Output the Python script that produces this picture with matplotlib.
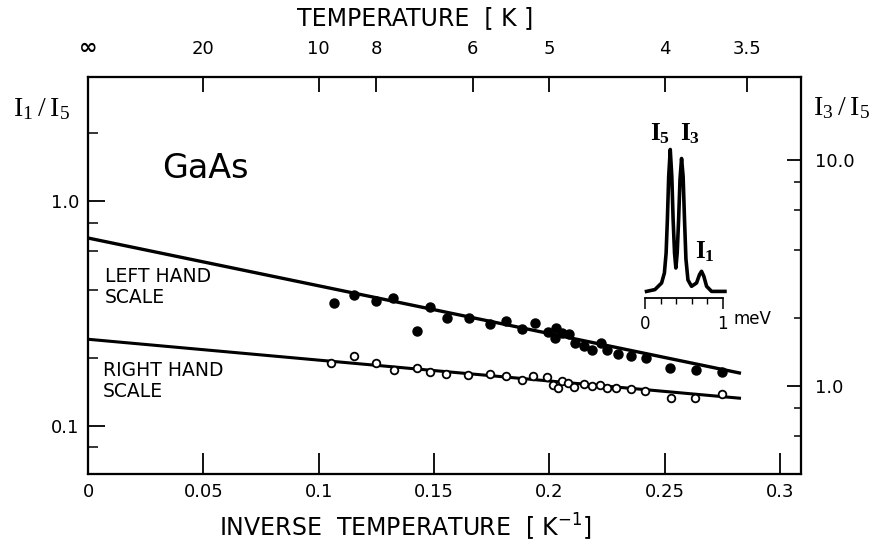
import numpy as np
import matplotlib.pyplot as plt
from matplotlib.ticker import FixedLocator, NullFormatter

plt.rcParams['font.family'] = ['DejaVu Sans']

# I1/I5 (filled dots, left hand scale)
inv_t_filled = [0.1065, 0.1152, 0.1246, 0.1322, 0.1424, 0.1484, 0.1556, 0.1653, 0.1742,
                0.1813, 0.1881, 0.1937, 0.1995, 0.2030, 0.2024, 0.2056, 0.2086, 0.2109,
                0.2149, 0.2186, 0.2225, 0.2251, 0.2297, 0.2355, 0.2417, 0.2521, 0.2636, 0.2749]
i1_i5 = [0.350, 0.381, 0.360, 0.368, 0.264, 0.338, 0.300, 0.300, 0.282,
         0.293, 0.268, 0.287, 0.262, 0.272, 0.245, 0.257, 0.256, 0.234,
         0.226, 0.217, 0.232, 0.217, 0.208, 0.205, 0.199, 0.181, 0.177, 0.173]

# I3/I5 (open dots, right hand scale)
inv_t_open = [0.1051, 0.1152, 0.1250, 0.1325, 0.1424, 0.1484, 0.1550, 0.1649, 0.1742,
              0.1813, 0.1883, 0.1929, 0.1991, 0.2015, 0.2037, 0.2054, 0.2082, 0.2108,
              0.2149, 0.2183, 0.2217, 0.2251, 0.2290, 0.2352, 0.2412, 0.2525, 0.2632, 0.2749]
i3_i5 = [1.260, 1.358, 1.260, 1.177, 1.198, 1.150, 1.130, 1.122, 1.133,
         1.104, 1.063, 1.111, 1.093, 1.010, 0.983, 1.055, 1.028, 0.987,
         1.017, 1.000, 1.010, 0.977, 0.977, 0.967, 0.950, 0.882, 0.888, 0.922]

# fitted lines
fit_x = [0.0, 0.283]
fit_left = [0.683, 0.171]
fit_right = [1.61, 0.882]

# top axis temperatures
temps = [20, 10, 8, 6, 5, 4, 3.5]

# inset spectrum (meV, relative intensity)
spec_e = [0.021, 0.128, 0.214, 0.250, 0.272, 0.288, 0.305, 0.325, 0.345, 0.362, 0.380,
          0.397, 0.414, 0.432, 0.450, 0.470, 0.490, 0.508, 0.526, 0.552, 0.598, 0.662,
          0.700, 0.726, 0.756, 0.791, 0.855, 1.026]
spec_i = [0.044, 0.056, 0.100, 0.167, 0.300, 0.520, 0.810, 0.990, 0.810, 0.520, 0.300,
          0.200, 0.300, 0.520, 0.790, 0.930, 0.810, 0.520, 0.260, 0.120, 0.078, 0.100,
          0.156, 0.178, 0.144, 0.078, 0.044, 0.044]

W, H = 872, 546
def box(x0, y0, x1, y1):
    return [x0 / W, 1 - y1 / H, (x1 - x0) / W, (y1 - y0) / H]

fig = plt.figure(figsize=(W / 100, H / 100), dpi=100)
ax = fig.add_axes(box(88, 77, 801, 473.5))
ax.set_xlim(0, 0.309)
ax.set_yscale('log')
ax.set_ylim(0.0613, 3.55)

ax.plot(fit_x, fit_left, color='black', lw=2.4, solid_capstyle='butt')
ax.plot(inv_t_filled, i1_i5, 'o', color='black', ms=6.5)

ax.set_xticks([0, 0.05, 0.1, 0.15, 0.2, 0.25, 0.3])
ax.set_xticklabels(['0', '0.05', '0.1', '0.15', '0.2', '0.25', '0.3'])
ax.yaxis.set_major_locator(FixedLocator([0.1, 1.0]))
ax.set_yticklabels(['0.1', '1.0'])
ax.yaxis.set_minor_locator(FixedLocator([0.08, 0.2, 0.4, 0.6, 0.8, 2.0]))
ax.yaxis.set_minor_formatter(NullFormatter())
ax.tick_params(axis='x', which='both', direction='in', length=15, width=1.3,
               labelsize=13, pad=7)
ax.tick_params(axis='y', which='major', direction='in', length=12, width=1.3,
               labelsize=13, pad=6)
ax.tick_params(axis='y', which='minor', direction='in', length=7, width=1.1)

ax2 = ax.twinx()
ax2.set_yscale('log')
ax2.set_ylim(0.41, 23.3)
ax2.plot(fit_x, fit_right, color='black', lw=2.2, solid_capstyle='butt')
ax2.plot(inv_t_open, i3_i5, 'o', mfc='white', mec='black', mew=1.3, ms=5.5)
ax2.yaxis.set_major_locator(FixedLocator([1.0, 10.0]))
ax2.set_yticklabels(['1.0', '10.0'])
ax2.yaxis.set_minor_locator(FixedLocator([0.6, 0.8, 2, 4, 6, 8]))
ax2.yaxis.set_minor_formatter(NullFormatter())
ax2.tick_params(axis='y', which='major', direction='in', length=10, width=1.3,
                labelsize=13, pad=10)
ax2.tick_params(axis='y', which='minor', direction='in', length=5, width=1.1)

ax3 = ax.twiny()
ax3.set_xlim(ax.get_xlim())
ax3.set_xticks([0] + [1 / t for t in temps])
ax3.set_xticklabels(['\u221e'] + [str(t) for t in temps])
ax3.tick_params(axis='x', direction='in', length=11, width=1.3, labelsize=13, pad=14)
ax3.get_xticklabels()[0].set_fontweight('bold')
ax3.get_xticklabels()[0].set_fontsize(16)

for a in (ax, ax2, ax3):
    for s in a.spines.values():
        s.set_linewidth(1.5)

fig.text(415 / W, 1 - 18 / H, 'TEMPERATURE  [ K ]', ha='center', va='center', fontsize=17)
fig.text(405 / W, 1 - 527 / H, 'INVERSE  TEMPERATURE  [ K$^{-1}$]', ha='center',
         va='center', fontsize=17)
fig.text(41 / W, 1 - 109 / H, r'$\mathregular{I_1\,/\,I_5}$', ha='center', va='center',
         fontsize=20, family='Liberation Serif')
fig.text(841 / W, 1 - 108 / H, r'$\mathregular{I_3\,/\,I_5}$', ha='center', va='center',
         fontsize=20, family='Liberation Serif')

fig.text(205 / W, 1 - 168 / H, 'GaAs', ha='center', va='center', fontsize=24)
fig.text(105 / W, 1 - 287 / H, 'LEFT HAND\nSCALE', ha='left', va='center', fontsize=13.5,
         linespacing=1.15)
fig.text(103 / W, 1 - 381 / H, 'RIGHT HAND\nSCALE', ha='left', va='center', fontsize=13.5,
         linespacing=1.15)

# inset spectrum
ins = fig.add_axes(box(641, 140.5, 730.7, 298))
ins.set_xlim(-0.05, 1.1)
ins.set_ylim(0, 1.05)
ins.plot(spec_e, spec_i, color='black', lw=2.6)
for side in ('top', 'left', 'right'):
    ins.spines[side].set_visible(False)
ins.spines['bottom'].set_bounds(0, 1)
ins.spines['bottom'].set_linewidth(1.3)
ins.set_yticks([])
ins.set_xticks([0, 1])
ins.set_xticklabels(['0', '1'])
ins.xaxis.set_minor_locator(FixedLocator([0.2, 0.4, 0.6, 0.8]))
ins.tick_params(axis='x', which='major', direction='out', length=8, width=1.1,
                labelsize=12, pad=4)
ins.tick_params(axis='x', which='minor', direction='out', length=4, width=1.0)
ins.patch.set_alpha(0)
fig.text(733 / W, 1 - 319 / H, 'meV', ha='left', va='center', fontsize=12)
fig.text(660 / W, 1 - 134 / H, r'$\mathregular{I_5}$', ha='center', va='center',
         fontsize=18, family='Liberation Serif', fontweight='bold')
fig.text(690 / W, 1 - 134 / H, r'$\mathregular{I_3}$', ha='center', va='center',
         fontsize=18, family='Liberation Serif', fontweight='bold')
fig.text(705 / W, 1 - 252 / H, r'$\mathregular{I_1}$', ha='center', va='center',
         fontsize=18, family='Liberation Serif', fontweight='bold')

fig.savefig('out.png', dpi=100)
